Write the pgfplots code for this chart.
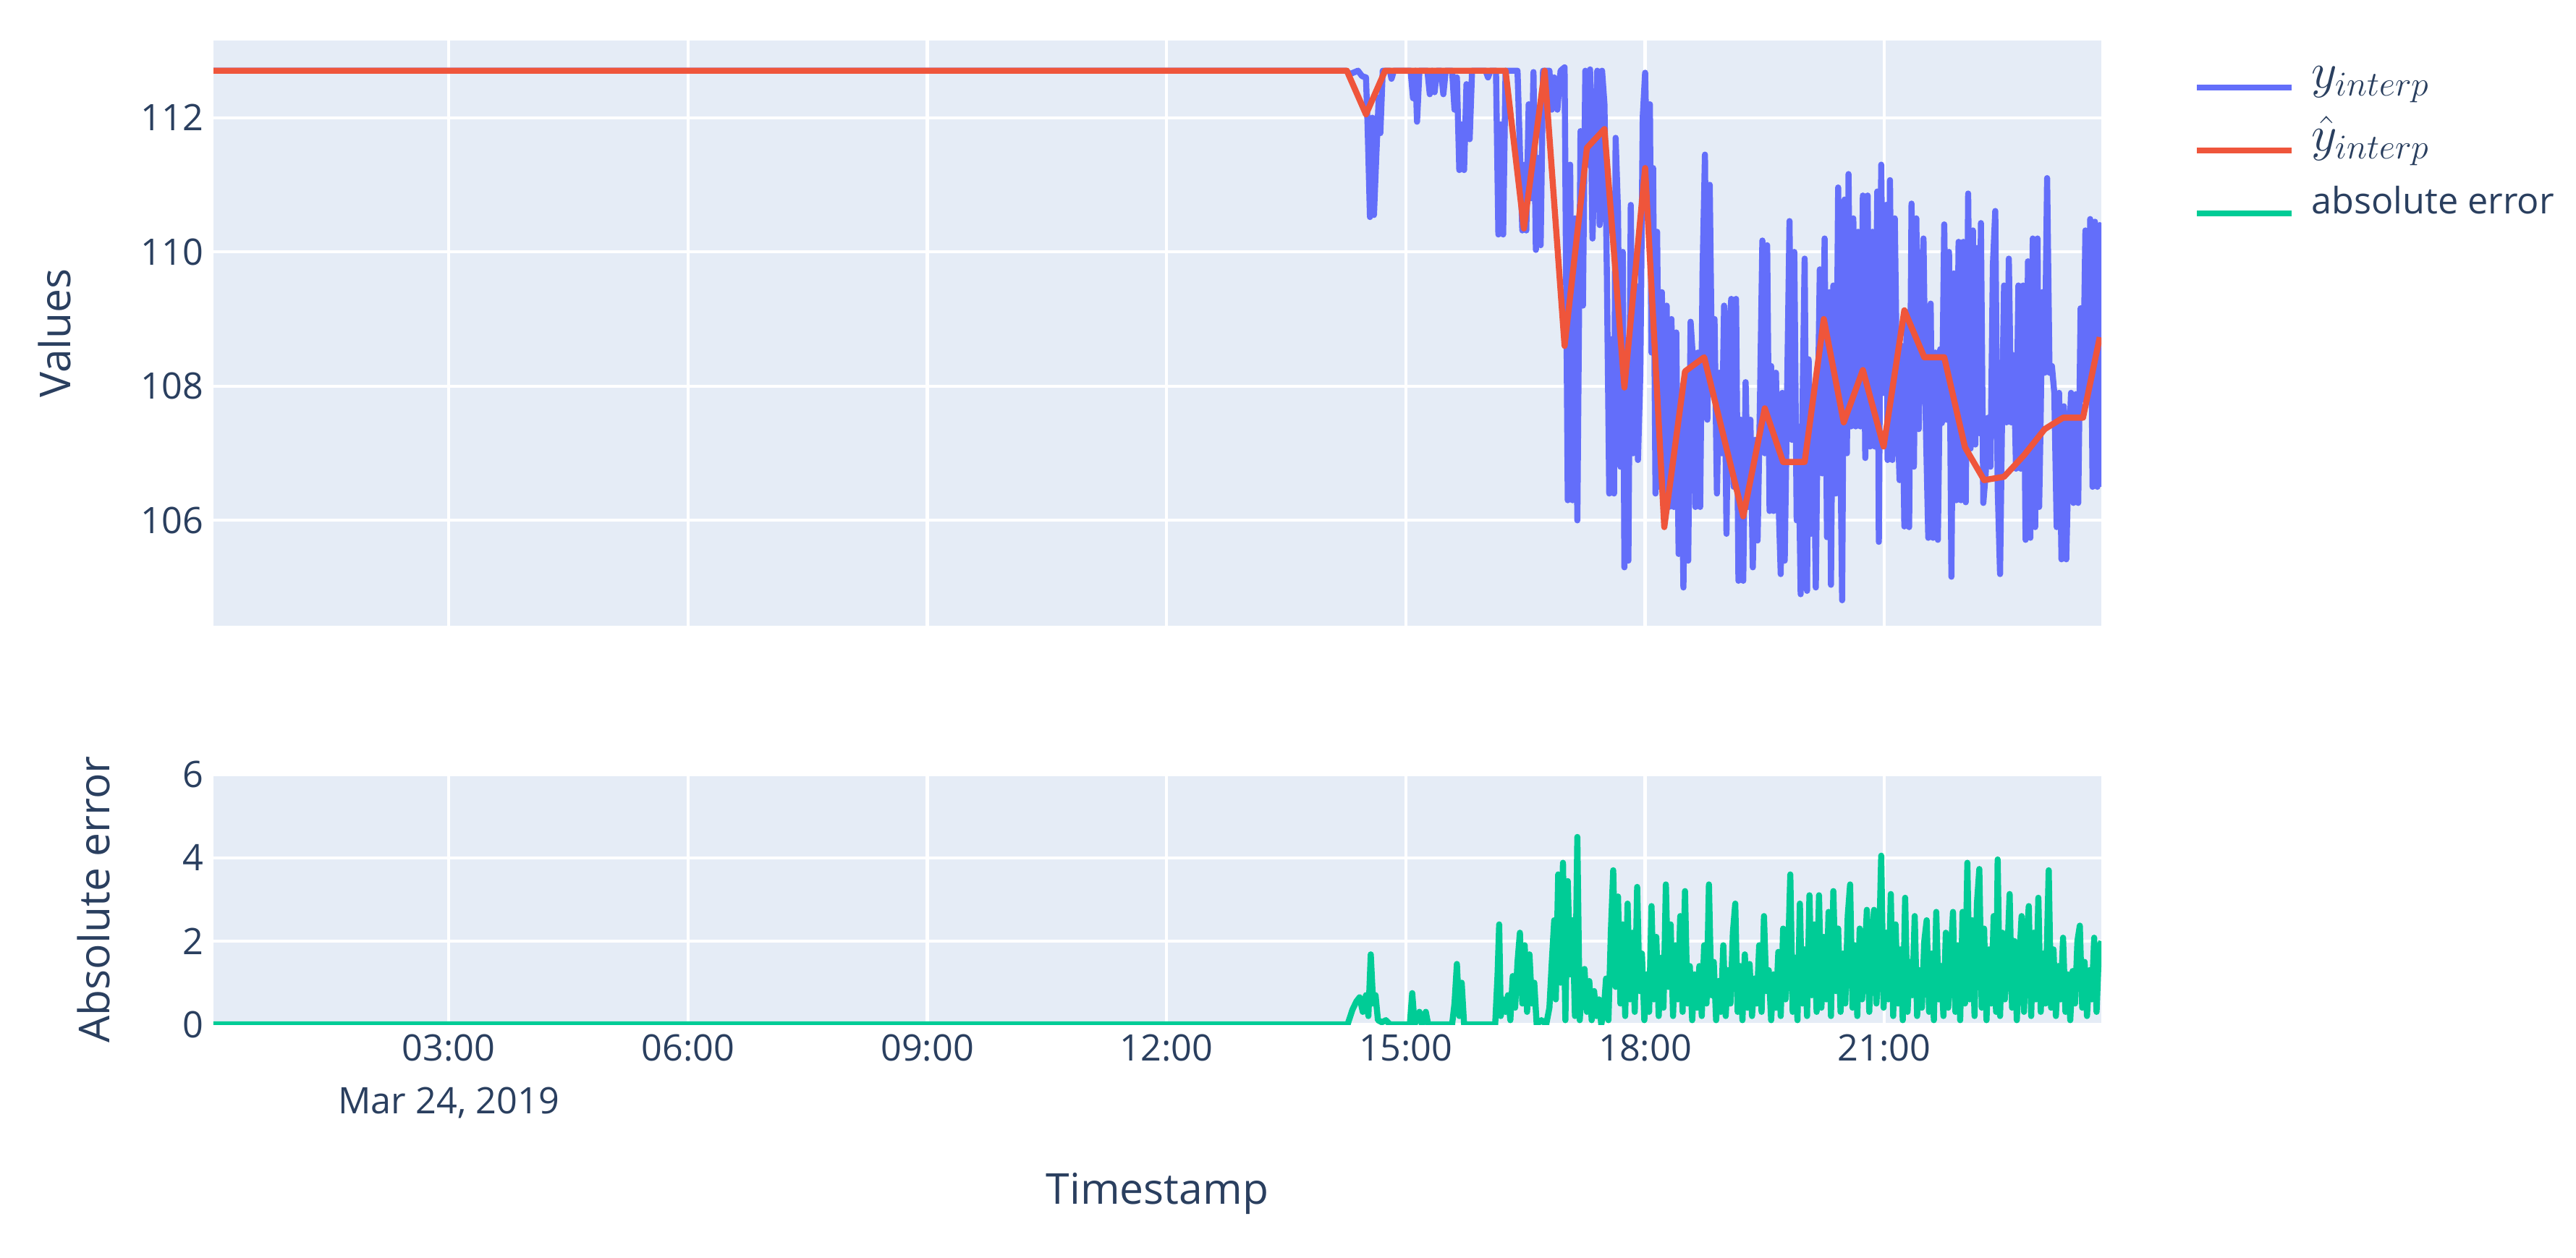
\documentclass[border=0pt]{standalone}
\usepackage{fontspec}
\setmainfont{Open Sans}
\usepackage{pgfplots}
\pgfplotsset{compat=1.18}

\definecolor{bgc}{HTML}{E5ECF6}
\definecolor{txt}{HTML}{2A3F5F}
\definecolor{pblue}{HTML}{636EFA}
\definecolor{pred}{HTML}{EF553B}
\definecolor{pgreen}{HTML}{00CC96}

\pgfplotsset{
  plotly/.style={
    scale only axis,
    width=652.25pt,
    xmin=0.05, xmax=23.72,
    axis background/.style={fill=bgc},
    axis line style={draw=none},
    tick style={draw=none},
    grid=major,
    major grid style={white, line width=1.05pt},
    xtick={3,6,...,21},
    tick label style={font=\fontsize{12.6}{18.25}\selectfont, text=txt},
    xticklabel style={align=center},
    /pgf/number format/assume math mode=true,
    every axis y label/.style={at={([xshift=-#1]axis description cs:0,0.5)}, rotate=90, anchor=center,
      font=\fontsize{14.7}{17}\selectfont, text=txt},
  },
}

\begin{document}
\begin{tikzpicture}
\path[use as bounding box] (0,0) rectangle (890pt,434.5pt);

\begin{axis}[plotly=55pt,
  at={(73.75pt,218.25pt)}, anchor=south west,
  height=202.25pt,
  ymin=104.43, ymax=113.15,
  ytick={106,108,110,112},
  xticklabels={},
  ylabel={Values},
  legend cell align=left,
  legend image code/.code={\draw[#1] (0pt,0pt) -- (32.75pt,0pt);},
  legend style={at={(1.0487,0.974)}, anchor=north west, draw=none, fill=none,
    font=\fontsize{12.6}{15}\selectfont, text=txt, inner sep=0pt,
    nodes={inner sep=0pt, text height=11pt, text depth=10.7pt},
    /tikz/every odd column/.append style={column sep=5.75pt}},
]
\addplot[pblue, line width=2.1pt, line join=round] table {
x y
0.05 112.7
14.25 112.7
14.30 112.65
14.40 112.7
14.45 112.62
14.50 112.6
14.52 111.9
14.55 110.52
14.58 112.0
14.60 110.55
14.63 111.45
14.66 112.3
14.68 111.77
14.71 112.7
14.80 112.7
14.82 112.58
14.85 112.7
15.06 112.7
15.09 112.29
15.12 112.7
15.14 111.94
15.17 112.7
15.27 112.7
15.30 112.35
15.33 112.7
15.36 112.38
15.39 112.7
15.44 112.7
15.47 112.35
15.50 112.7
15.58 112.7
15.61 112.12
15.64 112.6
15.67 111.22
15.70 111.9
15.73 111.22
15.76 112.5
15.80 111.68
15.83 112.7
16.00 112.7
16.03 112.6
16.06 112.7
16.13 112.7
16.16 110.26
16.19 111.9
16.22 110.26
16.25 112.7
16.40 112.7
16.43 111.5
16.46 110.32
16.49 111.3
16.51 110.32
16.54 112.2
16.57 110.8
16.60 112.68
16.63 110.03
16.66 111.4
16.69 110.1
16.72 112.7
16.80 112.7
16.83 112.12
16.86 112.6
16.90 112.12
16.94 112.7
16.99 112.75
17.03 106.3
17.06 111.3
17.09 106.3
17.12 110.5
17.15 106.0
17.19 111.8
17.22 109.2
17.25 112.7
17.28 111.3
17.31 112.72
17.34 110.2
17.37 111.5
17.40 112.7
17.43 110.4
17.46 112.7
17.49 112.2
17.52 109.7
17.55 106.4
17.58 108.7
17.61 106.4
17.63 111.7
17.66 110.6
17.69 106.8
17.72 110.0
17.74 105.3
17.77 108.4
17.79 105.4
17.82 110.7
17.85 107.0
17.88 109.5
17.91 106.9
17.94 108.2
17.97 112.0
18.00 112.67
18.03 110.9
18.06 112.2
18.08 108.5
18.10 111.25
18.13 106.4
18.15 110.3
18.18 106.5
18.21 109.4
18.24 106.3
18.27 109.2
18.30 106.2
18.33 109.0
18.36 106.2
18.39 108.8
18.42 105.5
18.45 107.6
18.48 105.0
18.51 108.1
18.54 105.4
18.57 108.96
18.60 108.4
18.63 106.2
18.66 108.5
18.69 106.2
18.72 109.7
18.75 111.45
18.78 107.5
18.81 111.0
18.84 108.0
18.87 109.0
18.90 106.4
18.93 108.2
18.96 107.0
18.99 109.2
19.02 105.8
19.05 108.8
19.08 109.3
19.11 106.5
19.14 109.3
19.17 105.1
19.20 107.5
19.23 105.1
19.26 108.06
19.29 106.2
19.32 107.5
19.35 105.3
19.38 107.2
19.41 105.7
19.44 107.8
19.47 110.17
19.50 107.0
19.53 110.1
19.56 106.14
19.58 108.3
19.61 106.14
19.64 108.2
19.67 106.4
19.70 105.2
19.72 107.9
19.75 105.4
19.78 107.9
19.81 110.46
19.84 107.2
19.87 110.0
19.90 106.0
19.92 107.4
19.95 104.9
19.97 107.4
20.00 109.9
20.03 104.95
20.05 108.4
20.08 105.8
20.11 107.6
20.14 105.0
20.16 107.2
20.19 109.74
20.22 106.7
20.25 110.2
20.28 105.75
20.31 109.4
20.33 105.04
20.36 109.5
20.39 106.4
20.42 110.96
20.45 106.9
20.47 104.81
20.50 110.78
20.53 107.0
20.55 111.16
20.58 107.4
20.61 110.5
20.64 107.4
20.67 110.3
20.70 107.4
20.73 110.84
20.76 106.93
20.79 110.84
20.82 107.1
20.85 110.3
20.88 107.1
20.91 110.9
20.93 105.68
20.96 111.3
20.99 107.9
21.02 110.7
21.04 106.9
21.07 111.07
21.10 106.9
21.13 110.5
21.16 107.8
21.19 106.6
21.22 108.6
21.25 105.91
21.28 109.1
21.31 105.9
21.34 110.72
21.37 106.8
21.40 110.5
21.43 107.36
21.46 109.2
21.49 110.2
21.52 107.4
21.55 105.74
21.58 109.23
21.61 105.74
21.64 108.5
21.67 105.71
21.70 108.55
21.72 107.45
21.75 110.41
21.78 107.5
21.81 110.0
21.84 105.16
21.87 109.68
21.90 106.3
21.93 110.15
21.96 106.3
21.99 110.15
22.02 106.27
22.05 110.87
22.08 107.07
22.11 110.32
22.14 107.13
22.17 110.06
22.19 107.3
22.21 110.43
22.24 106.26
22.27 106.7
22.30 107.53
22.33 106.8
22.36 109.8
22.39 110.61
22.42 106.5
22.45 105.2
22.48 108.0
22.50 109.5
22.53 107.46
22.56 109.9
22.59 107.46
22.62 108.46
22.65 106.77
22.68 109.5
22.71 106.77
22.74 109.5
22.77 105.71
22.80 109.86
22.83 105.74
22.86 110.2
22.89 105.9
22.92 110.2
22.94 106.2
22.96 107.6
22.98 109.4
23.01 108.2
23.04 111.1
23.07 108.2
23.10 108.3
23.13 107.9
23.16 105.9
23.19 107.9
23.22 105.42
23.25 107.7
23.28 105.42
23.31 107.0
23.34 107.9
23.37 106.26
23.40 107.88
23.43 106.26
23.46 109.16
23.49 107.8
23.52 110.32
23.55 107.8
23.58 110.49
23.61 106.5
23.64 110.45
23.67 106.5
23.70 110.4
23.72 106.5
};
\addlegendentry{{\fontsize{17}{20}\selectfont$y_{interp}$}}
\addplot[pred, line width=2.1pt, line join=round] table {
x y
0.05 112.7
14.26 112.7
14.50 112.05
14.74 112.7
16.25 112.7
16.48 110.35
16.74 112.7
16.99 108.6
17.27 111.55
17.49 111.83
17.74 107.98
18.00 111.25
18.24 105.9
18.50 108.22
18.74 108.43
19.23 106.06
19.50 107.67
19.73 106.87
20.00 106.87
20.24 109.0
20.49 107.46
20.73 108.24
20.99 107.1
21.25 109.13
21.50 108.43
21.75 108.43
22.01 107.09
22.25 106.6
22.50 106.65
22.75 106.97
23.01 107.36
23.24 107.53
23.49 107.53
23.70 108.73
};
\addlegendentry{{\fontsize{17}{20}\selectfont$\hat{y}_{interp}$}}
\addlegendimage{pgreen, line width=2.1pt}
\addlegendentry{absolute error}
\end{axis}

\begin{axis}[plotly=41.5pt,
  at={(73.75pt,80.5pt)}, anchor=south west,
  height=86.35pt,
  ymin=0, ymax=6,
  ytick={0,2,4,6},
  xticklabels={{03:00\\Mar 24, 2019},{06:00},{09:00},{12:00},{15:00},{18:00},{21:00}},
  xlabel={Timestamp},
  every axis x label/.style={at={([yshift=-58.5pt]axis description cs:0.5,0)}, anchor=center,
    font=\fontsize{14.7}{17}\selectfont, text=txt},
  ylabel={Absolute error},
]
\addplot[pgreen, line width=2.1pt, line join=round] table {
x y
0.05 0
14.27 0
14.33 0.35
14.38 0.55
14.42 0.65
14.46 0.3
14.50 0.7
14.53 0.2
14.56 1.68
14.59 0.5
14.62 0.7
14.65 0.1
14.70 0.05
14.75 0.1
14.80 0
15.05 0
15.08 0.75
15.11 0
15.17 0.3
15.20 0
15.25 0.3
15.28 0
15.58 0
15.61 0.5
15.64 1.45
15.67 0.2
15.70 1.0
15.73 0
16.12 0
16.15 1.2
16.17 2.4
16.19 0.2
16.22 0.6
16.25 0.3
16.28 0.7
16.31 0.1
16.34 1.16
16.37 0.4
16.40 1.5
16.43 2.2
16.46 0.5
16.49 1.9
16.52 0.3
16.55 1.68
16.58 0.5
16.61 1.0
16.64 0
16.70 0.1
16.76 0
16.80 0.4
16.83 1.5
16.86 2.5
16.88 0.6
16.91 3.6
16.94 1.0
16.97 3.88
17.00 0.1
17.03 3.44
17.06 1.2
17.09 2.5
17.12 0.2
17.15 4.5
17.18 0.1
17.21 1.0
17.24 1.33
17.27 0.3
17.30 1.04
17.33 0.1
17.36 0.8
17.39 0.2
17.42 0.6
17.45 0
17.48 0.3
17.51 1.1
17.54 0.1
17.57 2.2
17.60 3.7
17.63 0.9
17.66 3.07
17.69 0.5
17.72 2.4
17.75 0.2
17.78 2.9
17.81 0.6
17.84 2.2
17.87 0.3
17.90 3.3
17.93 0.8
17.96 1.7
17.99 0.1
18.02 1.2
18.05 0.3
18.08 2.84
18.11 0.6
18.14 2.1
18.17 0.2
18.20 1.6
18.23 0.4
18.26 3.36
18.29 0.9
18.32 2.4
18.35 0.2
18.38 1.9
18.41 0.6
18.44 2.6
18.47 0.3
18.50 3.2
18.53 0.5
18.56 1.4
18.59 0.1
18.62 1.2
18.65 0.4
18.68 1.4
18.71 0.2
18.74 1.9
18.77 0.5
18.80 3.36
18.83 0.7
18.86 1.5
18.89 0.1
18.92 1.04
18.95 0.3
18.98 1.9
19.01 0.2
19.04 1.3
19.07 0.5
19.10 2.2
19.13 2.9
19.16 0.3
19.19 1.4
19.22 0.1
19.25 1.68
19.28 0.4
19.31 1.45
19.34 0.2
19.37 1.1
19.40 0.5
19.43 1.9
19.46 0.3
19.49 2.6
19.52 0.8
19.55 1.3
19.58 0.1
19.61 1.2
19.64 0.4
19.67 1.74
19.70 0.2
19.73 2.3
19.76 0.6
19.79 1.5
19.82 3.6
19.85 0.3
19.88 1.6
19.91 0.1
19.94 2.9
19.97 0.5
20.00 1.8
20.03 0.2
20.06 3.1
20.09 0.7
20.12 2.4
20.15 0.3
20.18 3.1
20.21 0.4
20.24 2.1
20.27 0.6
20.30 2.7
20.33 0.2
20.36 3.2
20.39 0.8
20.42 2.3
20.45 0.3
20.48 1.7
20.51 0.5
20.54 2.6
20.57 3.36
20.60 0.4
20.63 1.9
20.66 0.2
20.69 2.3
20.72 0.6
20.75 1.5
20.78 2.75
20.81 0.3
20.84 2.0
20.87 2.75
20.90 0.5
20.93 1.6
20.96 4.05
20.99 0.4
21.02 2.2
21.05 0.6
21.08 3.13
21.11 0.2
21.14 2.4
21.17 0.5
21.20 1.8
21.23 0.1
21.26 3.04
21.29 0.3
21.32 1.5
21.35 0.7
21.38 2.6
21.41 0.2
21.44 1.3
21.47 0.4
21.50 2.0
21.53 2.5
21.56 0.3
21.59 1.7
21.62 0.1
21.65 2.7
21.68 0.6
21.71 1.4
21.74 0.2
21.77 2.2
21.80 0.4
21.83 1.6
21.86 2.7
21.89 0.3
21.92 1.9
21.95 0.1
21.98 2.7
22.01 0.5
22.04 3.88
22.07 0.6
22.10 2.5
22.13 0.2
22.16 2.9
22.19 3.73
22.22 0.4
22.25 2.3
22.28 0.1
22.31 1.8
22.34 0.5
22.37 2.6
22.40 0.3
22.42 3.96
22.45 0.2
22.48 2.2
22.51 0.6
22.54 1.6
22.57 3.13
22.60 0.4
22.63 2.0
22.66 0.1
22.69 1.5
22.72 2.6
22.75 0.3
22.78 1.9
22.81 2.84
22.84 0.2
22.87 2.2
22.90 0.6
22.93 3.04
22.96 0.3
22.99 1.7
23.02 0.5
23.06 3.7
23.09 0.4
23.12 1.8
23.15 0.2
23.18 1.4
23.21 0.6
23.24 2.08
23.27 0.3
23.30 1.2
23.33 0.1
23.36 1.28
23.39 0.5
23.42 2.0
23.45 2.37
23.48 0.4
23.51 1.5
23.54 0.2
23.57 1.3
23.60 0.6
23.63 2.08
23.66 0.3
23.69 1.8
23.72 2.0
};
\end{axis}
\end{tikzpicture}
\end{document}
